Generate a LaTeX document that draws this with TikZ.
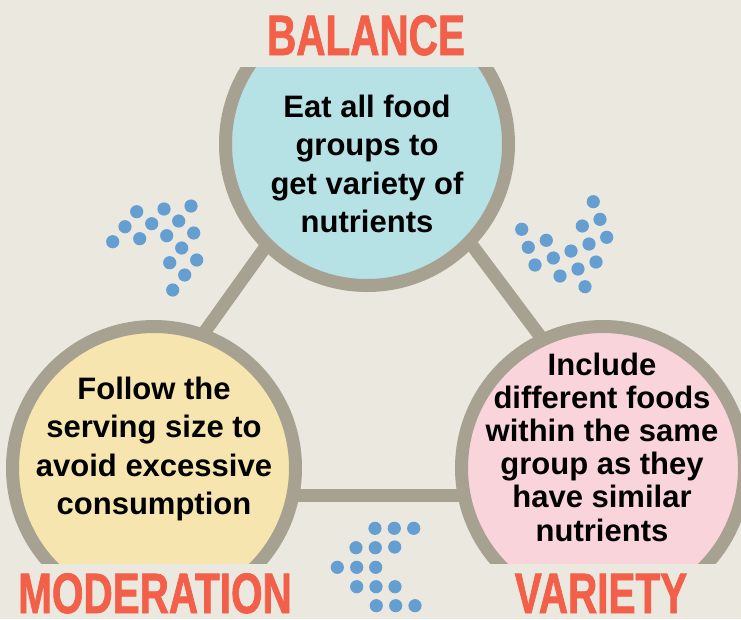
\documentclass[tikz,border=0pt]{standalone}
\usepackage{fontspec}
\setmainfont{Liberation Sans}
\newfontfamily\headfont[FakeStretch=0.71, FakeBold=1.2]{Liberation Sans}
\definecolor{bgc}{HTML}{EBE8DF}
\definecolor{ringc}{HTML}{A7A191}
\definecolor{balc}{HTML}{B6E1E5}
\definecolor{modc}{HTML}{F6E5AE}
\definecolor{varc}{HTML}{F9D4DB}
\definecolor{dotc}{HTML}{659FD2}
\definecolor{headc}{HTML}{F26049}
\tikzset{
  pillar/.style={circle, draw=ringc, line width=13pt, minimum size=283pt, inner sep=0pt},
  link/.style={draw=ringc, line width=13pt, line cap=round, line join=round},
  blurb/.style={align=center, inner sep=0pt, font=\bfseries\fontsize{31}{38.3}\selectfont},
  heading/.style={anchor=base, inner sep=0pt, text=headc, font=\headfont\bfseries\fontsize{57}{60}\selectfont},
  dot/.style={fill=dotc}
}
\begin{document}
\begin{tikzpicture}[x=1pt, y=-1pt]
  \useasboundingbox (0,0) rectangle (741,619);
  \fill[bgc] (0,0) rectangle (741,619);

  % corners of the linking triangle
  \coordinate (vTop)   at (367,105);
  \coordinate (vLeft)  at (88,495);
  \coordinate (vRight) at (659,495);

  \begin{scope}
    \clip (0,67) rectangle (741,563);
    \draw[link] (vTop) -- (vLeft);
    \draw[link] (vLeft) -- (vRight);
    \draw[link] (vRight) -- (vTop);
    \node[pillar, fill=balc] (balance)    at (367,144) {};
    \node[pillar, fill=modc] (moderation) at (154,468) {};
    \node[pillar, fill=varc] (variety)    at (603,468) {};
  \end{scope}

  % circle texts
  \node[blurb] (balanceText) at (367,164)
    {Eat all food\\groups to\\get variety of\\nutrients};
  \node[blurb] (moderationText) at (154,449)
    {Follow the\\serving size to\\avoid excessive\\consumption};
  \node[blurb, font=\bfseries\fontsize{31}{33.2}\selectfont] (varietyText) at (602,447)
    {Include\\different foods\\within the same\\group as they\\have similar\\nutrients};

  % headings
  \node[heading] (balanceHead)    at (366,55)  {BALANCE};
  \node[heading] (moderationHead) at (155,613) {MODERATION};
  \node[heading] (varietyHead)    at (601,613) {VARIETY};

  % dot clusters
  \foreach \x/\y in {136.7/211.7,164/209,191/206,125/226.7,151.7/223.7,178.7/221,
    112.7/241.7,139.7/238.7,166.7/235.7,193.7/233,181.7/248,169.7/262.7,196.7/260,
    184.7/275,172.7/290}
    \fill[dot] (\x,\y) circle (6.6);
  \foreach \x/\y in {593.3/201.7,600/219.3,582.3/226,521.7/229.3,606.7/237.3,589/244,
    528.3/247.3,546.3/240.3,571/251,535/265,553.3/258,596/262,560/276,578/269,585/286.7}
    \fill[dot] (\x,\y) circle (6.6);
  \foreach \x/\y in {375/528.3,394.3/528.3,413.7/528.3,356/547.7,375.3/547.7,394.7/547,
    337.3/567.3,356.7/567.3,375.7/567.3,356.7/586.7,376/586.7,395/586.7,
    376.3/605.7,395.7/605.7,415/605.7}
    \fill[dot] (\x,\y) circle (6.6);
\end{tikzpicture}
\end{document}
